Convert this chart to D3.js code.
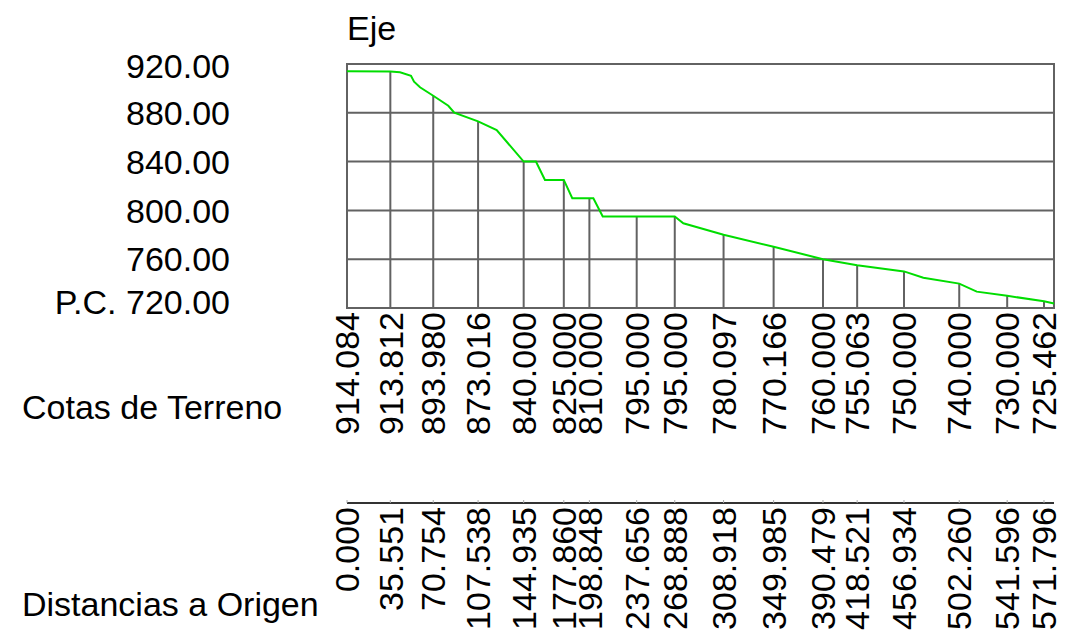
<!DOCTYPE html>
<html>
<head>
<meta charset="utf-8">
<script src="https://cdn.jsdelivr.net/npm/d3@7/dist/d3.min.js"></script>
<style>
  html, body { margin: 0; padding: 0; background: #fff; }
  svg { display: block; }
  text { font-family: "Liberation Sans", Arial, sans-serif; fill: #000; }
</style>
</head>
<body>
<svg id="chart" width="1081" height="630"></svg>
<script>
// ---- Data ----
const title = "Eje";
const yTicks = [920, 880, 840, 800, 760, 720];
const yTickLabels = ["920.00", "880.00", "840.00", "800.00", "760.00", "P.C. 720.00"];
const rowLabelElev = "Cotas de Terreno";
const rowLabelDist = "Distancias a Origen";

const stations = [0, 35.551, 70.754, 107.538, 144.935, 177.860, 198.848, 237.656, 268.888,
  308.918, 349.985, 390.479, 418.521, 456.934, 502.260, 541.596, 571.796];
const elevations = [914.084, 913.812, 893.980, 873.016, 840.000, 825.000, 810.000, 795.000, 795.000,
  780.097, 770.166, 760.000, 755.063, 750.000, 740.000, 730.000, 725.462];
const elevLabels = ["914.084", "913.812", "893.980", "873.016", "840.000", "825.000", "810.000", "795.000", "795.000",
  "780.097", "770.166", "760.000", "755.063", "750.000", "740.000", "730.000", "725.462"];
const distLabels = ["0.000", "35.551", "70.754", "107.538", "144.935", "177.860", "198.848", "237.656", "268.888",
  "308.918", "349.985", "390.479", "418.521", "456.934", "502.260", "541.596", "571.796"];

// terrain profile (stations plus intermediate vertices)
const profileX = [0, 35.551, 43.5, 52.5, 55.0, 59.9, 70.754, 83.1, 88.0, 107.538, 122.8, 144.935, 155.0, 162.4,
  177.860, 184.8, 198.848, 202.1, 209.8, 237.656, 268.888, 275.9, 308.918, 349.985, 390.479, 418.521,
  456.934, 472.8, 502.260, 516.6, 541.596, 571.796, 580];
const profileY = [914.084, 913.812, 913.2, 910.4, 905.5, 900.9, 893.980, 885.8, 880.1, 873.016, 865.9, 840.0, 840.0, 825.0,
  825.0, 810.0, 810.0, 810.0, 795.0, 795.0, 795.0, 789.4, 780.097, 770.166, 760.0, 755.063,
  750.0, 744.8, 740.0, 733.4, 730.0, 725.462, 723.7];

// ---- Layout ----
const svg = d3.select("#chart");
const L = 347, R = 1054, T = 64, B = 308;
const x = d3.scaleLinear().domain([0, 580]).range([L, R]);
const y = d3.scaleLinear().domain([720, 920]).range([B, T]);
const grey = "#626262";
const FS = 34;

// horizontal gridlines
svg.append("g").selectAll("line").data(yTicks.slice(1, -1)).join("line")
  .attr("x1", L).attr("x2", R).attr("y1", d => y(d)).attr("y2", d => y(d))
  .attr("stroke", grey).attr("stroke-width", 2);

// station vertical lines
svg.append("g").selectAll("line").data(stations).join("line")
  .attr("x1", d => x(d)).attr("x2", d => x(d))
  .attr("y1", (d, i) => y(elevations[i])).attr("y2", B)
  .attr("stroke", grey).attr("stroke-width", 2);

// frame
svg.append("rect").attr("x", L).attr("y", T).attr("width", R - L).attr("height", B - T)
  .attr("fill", "none").attr("stroke", grey).attr("stroke-width", 2);

// terrain line
const pts = profileX.map((d, i) => [d, profileY[i]]);
svg.append("path").datum(pts)
  .attr("d", d3.line().x(d => x(d[0])).y(d => y(d[1])))
  .attr("fill", "none").attr("stroke", "#00dd00").attr("stroke-width", 2);

// title
svg.append("text").attr("x", L).attr("y", 40).attr("font-size", FS).text(title);

// y labels
svg.append("g").selectAll("text").data(yTicks).join("text")
  .attr("x", 230).attr("y", d => Math.max(66, Math.min(301.5, y(d))))
  .attr("dy", "0.36em").attr("text-anchor", "end").attr("font-size", FS)
  .text((d, i) => yTickLabels[i]);

// row labels
svg.append("text").attr("x", 22).attr("y", 407).attr("dy", "0.36em").attr("font-size", FS).text(rowLabelElev);
svg.append("text").attr("x", 22).attr("y", 604).attr("dy", "0.36em").attr("font-size", FS).text(rowLabelDist);

// elevation labels (rotated)
svg.append("g").selectAll("text").data(stations).join("text")
  .attr("transform", d => `translate(${x(d)},312) rotate(-90)`)
  .attr("text-anchor", "end").attr("dy", "0.36em").attr("font-size", FS)
  .text((d, i) => elevLabels[i]);

// distance baseline
const baseY = 503;
svg.append("line").attr("x1", L).attr("x2", R).attr("y1", baseY).attr("y2", baseY)
  .attr("stroke", "#333").attr("stroke-width", 2);
svg.append("g").selectAll("line").data(stations).join("line")
  .attr("x1", d => x(d)).attr("x2", d => x(d)).attr("y1", baseY - 3).attr("y2", baseY)
  .attr("stroke", "#aaa").attr("stroke-width", 1);

// distance labels (rotated)
svg.append("g").selectAll("text").data(stations).join("text")
  .attr("transform", d => `translate(${x(d)},507) rotate(-90)`)
  .attr("text-anchor", "end").attr("dy", "0.36em").attr("font-size", FS)
  .text((d, i) => distLabels[i]);
</script>
</body>
</html>
